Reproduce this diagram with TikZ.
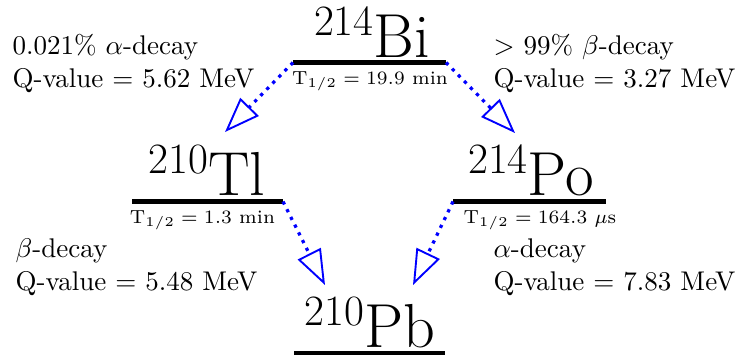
\documentclass[tikz,border=0pt]{standalone}
\usetikzlibrary{positioning,calc,arrows.meta}
\newcommand{\nuc}[2]{\raisebox{8.1pt}{\fontsize{16}{16}\selectfont #1}#2}

\begin{document}
\begin{tikzpicture}[x=0.37pt, y=-0.37pt,
  every node/.style={inner sep=0pt},
  iso/.style={anchor=base, font=\fontsize{23}{27}\selectfont},
  half/.style={anchor=base, font=\scriptsize},
  info/.style={anchor=base west, align=left},
  level/.style={line width=1.5pt},
  decay/.style={blue, dotted, line width=1.2pt, -{Triangle[open, length=13pt, width=9.5pt, line width=0.7pt]}}]
\useasboundingbox (0,0) rectangle (740,356);

% Energy levels
\coordinate (biL) at (293,62.5);  \coordinate (biR) at (446,62.5);
\coordinate (tlL) at (132,201.5); \coordinate (tlR) at (283,201.5);
\coordinate (poL) at (453,201.5); \coordinate (poR) at (606,201.5);
\coordinate (pbL) at (294,353);   \coordinate (pbR) at (445,353);
\draw[level] (biL) -- (biR);
\draw[level] (tlL) -- (tlR);
\draw[level] (poL) -- (poR);
\draw[level] (pbL) -- (pbR);

% Isotopes and half-lives
\node (bi) [iso] at (372,57) {\nuc{214}{Bi}};
\node (tl) [iso] at (207,195) {\nuc{210}{Tl}};
\node (po) [iso] at (531,195) {\nuc{214}{Po}};
\node (pb) [iso] at (370,347) {\nuc{210}{Pb}};
\node (biHalf) [half] at (370,84) {$\mathrm{T}_{1/2} = 19.9$ min};
\node (tlHalf) [half] at (202.5,223) {$\mathrm{T}_{1/2} = 1.3$ min};
\node (poHalf) [half] at (540,223) {$\mathrm{T}_{1/2} = 164.3$ $\mu$s};

% Decay branches (anchored on the last line)
\node (biAlpha) [info] at (12,87) {0.021\% $\alpha$-decay\\Q-value = 5.62 MeV};
\node (biBeta) [info] at (493,87) {$>$ 99\% $\beta$-decay\\Q-value = 3.27 MeV};
\node (tlBeta) [info] at (15,290) {$\beta$-decay\\Q-value = 5.48 MeV};
\node (poAlpha) [info] at (493,290) {$\alpha$-decay\\Q-value = 7.83 MeV};

% Arrows
\coordinate (toTl) at (225,132);
\coordinate (toPo) at (515,133);
\coordinate (pbA) at (325,285);
\coordinate (pbB) at (413,285);
\draw[decay] (biL) -- (toTl);
\draw[decay] (biR) -- (toPo);
\draw[decay] (tlR) -- (pbA);
\draw[decay] (poL) -- (pbB);
\end{tikzpicture}
\end{document}
